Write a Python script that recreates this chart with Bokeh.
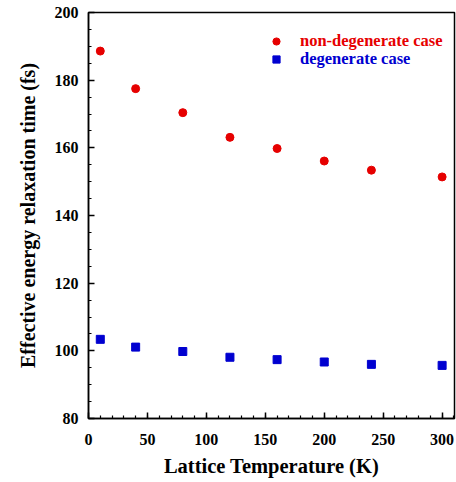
from bokeh.plotting import figure
from bokeh.models import Range1d, Legend, LegendItem, FixedTicker, ColumnDataSource
from bokeh.embed import file_html
from bokeh.resources import INLINE

temps = [10, 40, 80, 120, 160, 200, 240, 300]
nondeg = [188.6, 177.5, 170.4, 163.1, 159.8, 156.1, 153.4, 151.4]
deg = [103.4, 101.1, 99.8, 98.1, 97.4, 96.7, 96.0, 95.7]
x_ticks = [0, 50, 100, 150, 200, 250, 300]
y_ticks = [80, 100, 120, 140, 160, 180, 200]

RED = "#e60000"
BLUE = "#0000d0"
FONT = "Liberation Serif"

p = figure(width=456, height=482, output_backend="svg", toolbar_location=None,
           x_range=Range1d(0, 310.5), y_range=Range1d(80, 200),
           min_border_left=88, min_border_right=2, min_border_top=12, min_border_bottom=64)
p.grid.visible = False
p.outline_line_color = "black"
p.outline_line_width = 1.5
p.background_fill_color = "white"
p.border_fill_color = "white"

src = ColumnDataSource(dict(t=temps, nd=nondeg, d=deg))
r1 = p.scatter("t", "nd", source=src, marker="circle", size=8, color=RED)
r2 = p.scatter("t", "d", source=src, marker="square", size=8, color=BLUE)

for ax in (p.xaxis[0], p.yaxis[0]):
    ax.axis_line_width = 1.5
    ax.major_tick_in = 6
    ax.major_tick_out = 0
    ax.minor_tick_in = 3
    ax.minor_tick_out = 0
    ax.major_tick_line_width = 1.5
    ax.minor_tick_line_width = 1.2
    ax.major_label_text_font = FONT
    ax.major_label_text_font_style = "bold"
    ax.major_label_text_font_size = "16px"
    ax.major_label_text_color = "black"
    ax.axis_label_text_font = FONT
    ax.axis_label_text_font_style = "bold"
    ax.axis_label_text_color = "black"

p.xaxis.ticker = FixedTicker(ticks=x_ticks, minor_ticks=list(range(0, 311, 10)))
p.yaxis.ticker = FixedTicker(ticks=y_ticks, minor_ticks=list(range(80, 201, 5)))
p.xaxis.major_label_standoff = 15
p.yaxis.major_label_standoff = 10
p.xaxis.axis_label = "Lattice Temperature (K)"
p.yaxis.axis_label = "Effective energy relaxation time (fs)"
p.xaxis.axis_label_text_font_size = "20.5px"
p.yaxis.axis_label_text_font_size = "20px"
p.xaxis.axis_label_standoff = 7
p.yaxis.axis_label_standoff = 13

def make_legend(label, renderer, color, loc):
    lg = Legend(items=[LegendItem(label=label, renderers=[renderer])], location=loc,
                padding=0, margin=0, border_line_alpha=0, background_fill_alpha=0,
                glyph_width=20, glyph_height=18, label_height=18, label_standoff=14,
                label_text_font=FONT, label_text_font_style="bold",
                label_text_font_size="16.5px", label_text_color=color)
    p.add_layout(lg, "center")

make_legend("non-degenerate case", r1, RED, (178, 367))
make_legend("degenerate case", r2, BLUE, (178, 349))

open("out.html", "w").write(file_html(p, INLINE))
